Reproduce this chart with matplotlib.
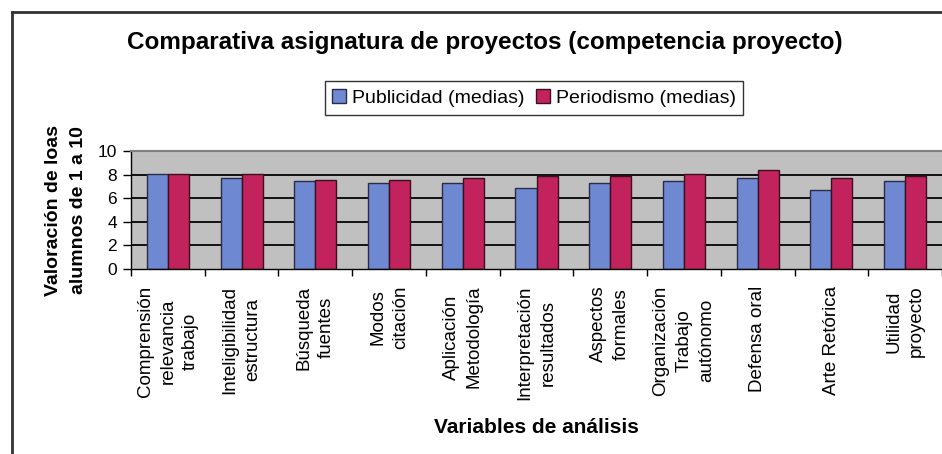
# libraries
import matplotlib
matplotlib.use('Agg')
import matplotlib.pyplot as plt
from matplotlib.lines import Line2D
import numpy as np

plt.rcParams['font.family'] = ['Liberation Sans', 'DejaVu Sans']

# create data
variables = ['Comprensión\nrelevancia\ntrabajo', 'Inteligibilidad\nestructura', 'Búsqueda\nfuentes',
             'Modos\ncitación', 'Aplicación\nMetodología', 'Interpretación\nresultados',
             'Aspectos\nformales', 'Organización\nTrabajo\nautónomo', 'Defensa oral',
             'Arte Retórica', 'Utilidad\nproyecto']
publicidad = [8.02, 7.68, 7.45, 7.28, 7.28, 6.88, 7.25, 7.45, 7.68, 6.68, 7.45]
periodismo = [8.08, 8.02, 7.54, 7.54, 7.68, 7.88, 7.88, 8.08, 8.4, 7.68, 7.88]
y_ticks = [0, 2, 4, 6, 8, 10]

fig = plt.figure(figsize=(9.42, 4.54), dpi=100)
ax = fig.add_axes([131 / 942, 185 / 454, 811 / 942, 118 / 454])
ax.set_facecolor('#c0c0c0')

x_pos = np.arange(len(variables))
ancho = 0.285

# gridlines behind the bars
for v in y_ticks[1:-1]:
    ax.axhline(v, color='#111111', lw=1.4, zorder=1)

ax.bar(x_pos - ancho / 2, publicidad, ancho, color='#6f88d2', edgecolor='#2a2a4a', lw=1,
       label='Publicidad (medias)', zorder=2)
ax.bar(x_pos + ancho / 2, periodismo, ancho, color='#c2235c', edgecolor='#3a1020', lw=1,
       label='Periodismo (medias)', zorder=2)

ax.set_xlim(-0.5, len(variables) - 0.5)
ax.set_ylim(0, 10)
ax.set_yticks(y_ticks)
ax.tick_params(axis='y', labelsize=12.5, length=6, width=1, pad=4)

# category labels on major ticks, boundary marks on minor ticks
ax.set_xticks(x_pos)
ax.set_xticklabels(variables, rotation=90, ha='center', va='top', multialignment='center',
                   fontsize=13.5, linespacing=1.45)
ax.set_xticks(np.arange(-0.5, len(variables)), minor=True)
ax.tick_params(axis='x', which='major', length=0, pad=12)
ax.tick_params(axis='x', which='minor', length=5, width=1)

for s in ['right']:
    ax.spines[s].set_visible(False)
ax.spines['top'].set_color('#808080')
ax.spines['top'].set_linewidth(1.5)
ax.spines['left'].set_linewidth(1)
ax.spines['bottom'].set_linewidth(1)

ax.set_ylabel('Valoración de loas\nalumnos de 1 a 10', fontsize=14, fontweight='bold',
              linespacing=1.6, labelpad=8)
ax.set_xlabel('Variables de análisis', fontsize=15, fontweight='bold', labelpad=8)
ax.xaxis.set_label_coords(0.5, -1.26)

fig.text(485 / 942, 1 - 42 / 454, 'Comparativa asignatura de proyectos (competencia proyecto)',
         ha='center', va='center', fontsize=17.5, fontweight='bold')

leg = fig.legend(loc='center', bbox_to_anchor=(534 / 942, 1 - 98 / 454), ncol=2, fontsize=14,
                 frameon=True, fancybox=False, edgecolor='black', handlelength=0.7,
                 handleheight=0.7, handletextpad=0.3, columnspacing=0.6, borderpad=0.4)
leg.get_frame().set_linewidth(1)

# outer chart frame
fig.add_artist(Line2D([12 / 942, 12 / 942], [0, 1 - 12 / 454], color='#333333', lw=2))
fig.add_artist(Line2D([12 / 942, 1], [1 - 12 / 454, 1 - 12 / 454], color='#333333', lw=2))

plt.savefig('out.png')
plt.close()
